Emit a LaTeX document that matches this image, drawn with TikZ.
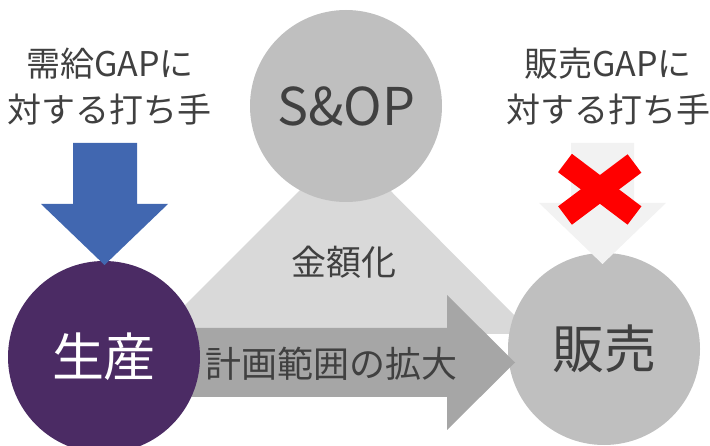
\documentclass[tikz,border=0pt]{standalone}
\usepackage{fontspec}
\setmainfont{Noto Sans CJK JP}
\definecolor{txt}{HTML}{404040}
\definecolor{purp}{HTML}{4B2B64}
\definecolor{circgray}{HTML}{BFBFBF}
\definecolor{trigray}{HTML}{D9D9D9}
\definecolor{arrgray}{HTML}{A6A6A6}
\definecolor{lightarr}{HTML}{F2F2F2}
\definecolor{bluearr}{HTML}{4167B0}
\definecolor{redx}{HTML}{FF0000}
\tikzset{
  bigcirc/.style={circle, minimum size=192pt, inner sep=0pt, font=\fontsize{52}{60}\selectfont},
  graycirc/.style={bigcirc, fill=circgray, text=txt},
  purpcirc/.style={bigcirc, fill=purp, text=white},
  lbl/.style={text=txt, align=center, font=\fontsize{34}{46}\selectfont, inner sep=0pt},
}
\begin{document}
\begin{tikzpicture}[x=1pt,y=-1pt]
\useasboundingbox (0,0) rectangle (710,446);
% triangle
\fill[trigray] (156,334) -- (533,334) -- (345,145) -- cycle;
\node[graycirc] (sop) at (346,106) {S\&OP};
\node[graycirc] (hanbai) at (604,349) {販売};
% plan-range arrow
\fill[arrgray] (150,328) -- (447,328) -- (447,295) -- (515,362.5) -- (447,430) -- (447,397) -- (150,397) -- cycle;
\node[purpcirc] (seisan) at (104,357) {生産};
% blue arrow
\fill[bluearr] (73,143) -- (137,143) -- (137,204) -- (168,204) -- (104.5,265) -- (41,204) -- (73,204) -- cycle;
% light arrow
\fill[lightarr] (571,143) -- (634,143) -- (634,203) -- (666,203) -- (602.5,264) -- (539,203) -- (571,203) -- cycle;
% red cross
\draw[redx, line width=23pt] (565,163) -- (634.5,215.5);
\draw[redx, line width=23pt] (634.5,163.5) -- (565,215.5);
% labels
\node[lbl] (t1) at (110,87) {需給GAPに\\対する打ち手};
\node[lbl] (t2) at (608,87) {販売GAPに\\対する打ち手};
\node[lbl, font=\fontsize{35}{46}\selectfont] (t3) at (344,262) {金額化};
\node[lbl, font=\fontsize{36}{44}\selectfont] (t4) at (331.5,363.5) {計画範囲の拡大};
\end{tikzpicture}
\end{document}
